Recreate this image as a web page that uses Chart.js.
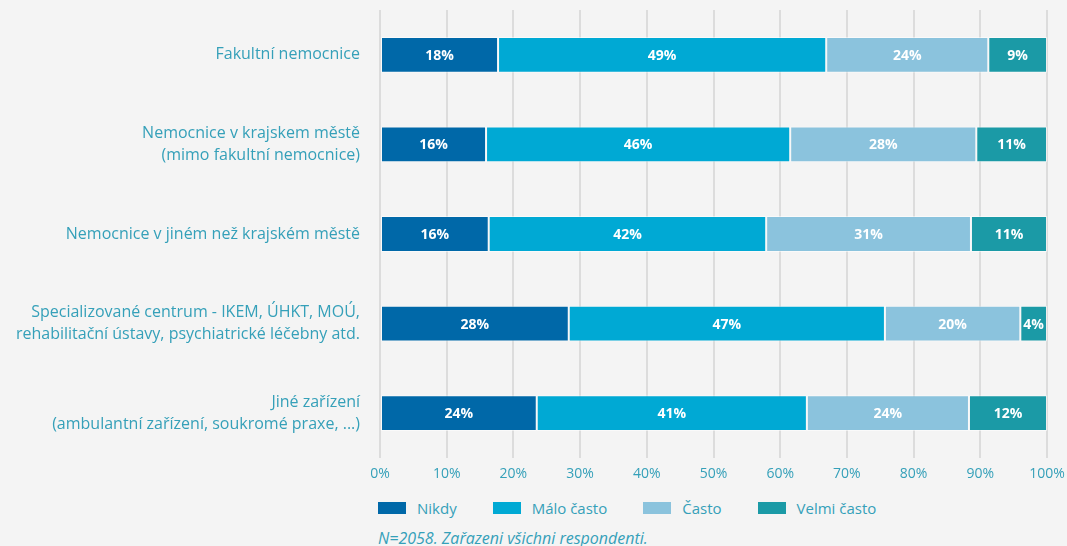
<!DOCTYPE html>
<html>
<head>
<meta charset="utf-8">
<script src="https://cdn.jsdelivr.net/npm/chart.js@4"></script>
<style>
  html, body { margin: 0; padding: 0; background: #f4f4f4; }
  body { width: 1067px; height: 546px; overflow: hidden; position: relative; font-family: "Open Sans", Lato, sans-serif; }
  #wrap { position: absolute; left: 0; top: 0; width: 1067px; height: 490px; }
  #legend { position: absolute; left: 378px; top: 498px; display: flex; color: #35a0b9; font-size: 15px; line-height: 20px; }
  .item { display: flex; align-items: center; margin-right: 36px; }
  .box { width: 28px; height: 12px; margin-right: 11px; }
  #note { position: absolute; left: 378px; top: 527px; color: #35a0b9; font-size: 16px; font-style: italic; }
</style>
</head>
<body>
<div id="wrap"><canvas id="chart"></canvas></div>
<div id="legend"></div>
<div id="note">N=2058. Zařazeni všichni respondenti.</div>
<script>
var categories = [
    "Fakultní nemocnice",
    ["Nemocnice v krajskem městě", "(mimo fakultní nemocnice)"],
    "Nemocnice v jiném než krajském městě",
    ["Specializované centrum - IKEM, ÚHKT, MOÚ,", "rehabilitační ústavy, psychiatrické léčebny atd."],
    ["Jiné zařízení", "(ambulantní zařízení, soukromé praxe, ...)"]
];
var seriesNames = ["Nikdy", "Málo často", "Často", "Velmi často"];
var nikdy = [17.7, 15.9, 16.3, 28.3, 23.5];
var maloCasto = [49.2, 45.6, 41.6, 47.4, 40.5];
var casto = [24.3, 27.9, 30.7, 20.3, 24.3];
var velmiCasto = [8.8, 10.6, 11.4, 4.0, 11.7];
var xTicks = [0, 10, 20, 30, 40, 50, 60, 70, 80, 90, 100];

var colors = ["#0068a8", "#00a9d4", "#8bc3dd", "#1b9aa6"];
var textColor = "#35a0b9";

// percentage text in the middle of every segment
var segmentLabels = {
    id: "segmentLabels",
    afterDatasetsDraw: function (chart) {
        var ctx = chart.ctx;
        ctx.save();
        ctx.fillStyle = "#ffffff";
        ctx.font = "bold 14px 'Open Sans', sans-serif";
        ctx.textAlign = "center";
        ctx.textBaseline = "middle";
        chart.data.datasets.forEach(function (ds, i) {
            chart.getDatasetMeta(i).data.forEach(function (bar, j) {
                var mid = (bar.x + bar.base) / 2;
                ctx.fillText(Math.round(ds.data[j]) + "%", mid, bar.y + 1);
            });
        });
        ctx.restore();
    }
};

var allSeries = [nikdy, maloCasto, casto, velmiCasto];
var datasets = allSeries.map(function (values, i) {
    return {
        label: seriesNames[i],
        data: values,
        backgroundColor: colors[i],
        borderColor: "rgba(255, 255, 255, 0.5)",
        borderWidth: 1,
        borderSkipped: false,
        barPercentage: 0.4,
        categoryPercentage: 1
    };
});

var ctx = document.getElementById("chart").getContext("2d");
var chart = new Chart(ctx, {
    type: "bar",
    data: { labels: categories, datasets: datasets },
    plugins: [segmentLabels],
    options: {
        indexAxis: "y",
        responsive: true,
        maintainAspectRatio: false,
        animation: false,
        layout: { padding: { top: 10, right: 20 } },
        plugins: {
            legend: { display: false },
            tooltip: { enabled: false }
        },
        scales: {
            x: {
                stacked: true,
                min: 0,
                max: 100,
                afterBuildTicks: function (scale) {
                    scale.ticks = xTicks.map(function (v) { return { value: v }; });
                },
                afterFit: function (scale) {
                    scale.height = 32;
                    scale.paddingLeft = 0;
                    scale.paddingRight = 0;
                },
                grid: { color: "#dcdcdc", lineWidth: 2, drawTicks: true, tickLength: 0 },
                border: { display: false },
                ticks: {
                    color: textColor,
                    font: { family: "Open Sans", size: 14 },
                    padding: 8,
                    callback: function (v) { return v + "%"; }
                }
            },
            y: {
                stacked: true,
                afterFit: function (scale) {
                    scale.width = 380;
                    scale.paddingTop = 0;
                    scale.paddingBottom = 0;
                },
                grid: { display: false },
                border: { display: false },
                ticks: {
                    color: textColor,
                    font: { family: "Open Sans", size: 16, lineHeight: 1.4 },
                    padding: 12
                }
            }
        }
    }
});

var legend = document.getElementById("legend");
seriesNames.forEach(function (name, i) {
    var item = document.createElement("div");
    item.className = "item";
    var box = document.createElement("span");
    box.className = "box";
    box.style.background = colors[i];
    var label = document.createElement("span");
    label.textContent = name;
    item.appendChild(box);
    item.appendChild(label);
    legend.appendChild(item);
});
</script>
</body>
</html>
